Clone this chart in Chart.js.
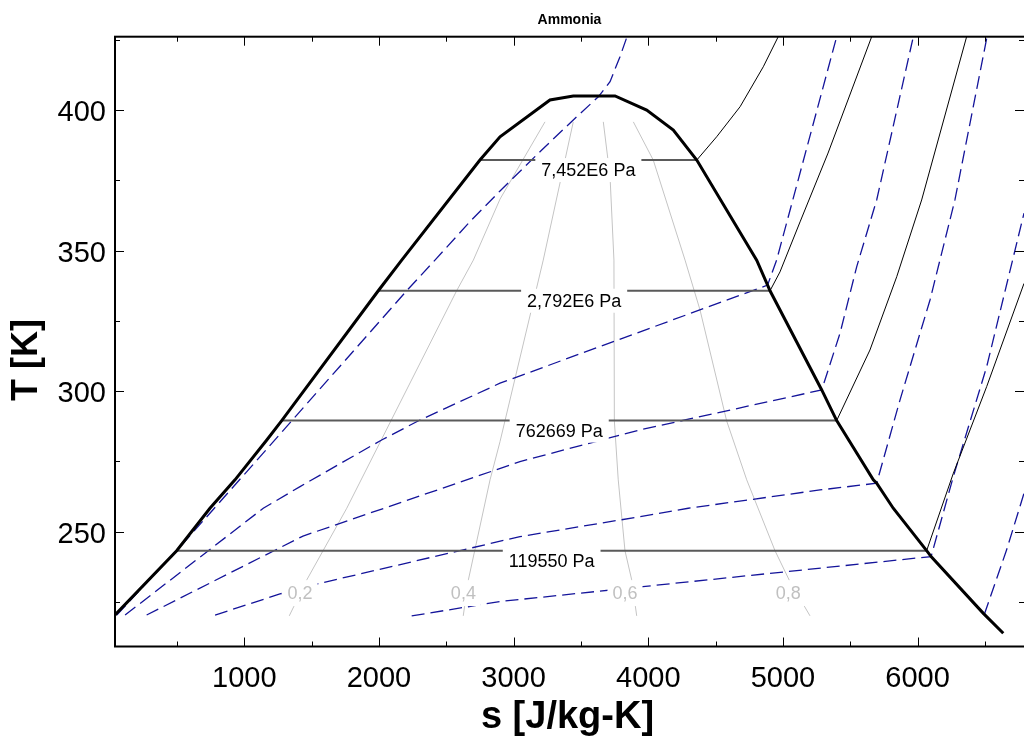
<!DOCTYPE html>
<html><head><meta charset="utf-8">
<script src="https://cdn.jsdelivr.net/npm/chart.js@4.4.1/dist/chart.umd.min.js"></script>
<style>html,body{margin:0;padding:0;background:#fff;overflow:hidden}</style>
</head><body>
<canvas id="c" width="1024" height="749" style="display:block;width:1024px;height:749px"></canvas>
<script>
// ---------- texts ----------
const chartTitle = 'Ammonia';
const xAxisTitle = 's [J/kg-K]';
const yAxisTitle = 'T [K]';

// ---------- axes ----------
const xRange = [40, 6790];
const yRange = [209.1, 426.1];
const xMajorTicks = [1000, 2000, 3000, 4000, 5000, 6000];
const xMinorTicks = [500, 1500, 2500, 3500, 4500, 5500, 6500];
const yMajorTicks = [250, 300, 350, 400];
const yMinorTicks = [225, 275, 325, 375, 425];

// ---------- saturation dome ----------
const domeS = [40, 498, 745, 931, 1167, 1278, 1995, 2169, 2750, 2899, 3270, 3443, 3753, 3988, 4186, 4360, 4805, 4886, 4904, 5288, 5399, 5671, 5696, 5819, 6067, 6100, 6488, 6636];
const domeT = [220.3, 243.2, 258.3, 268.4, 282.6, 289.5, 335.7, 346.6, 382.2, 390.5, 403.6, 405.0, 405.0, 400.0, 392.9, 382.2, 346.6, 337.7, 335.7, 300.4, 289.5, 268.4, 267.2, 258.3, 243.2, 241.1, 220.9, 213.8];

// ---------- isobars ----------
const isobarLabels = ['7,452E6 Pa', '2,792E6 Pa', '762669 Pa', '119550 Pa'];
const isobarT = [382.2, 335.7, 289.5, 243.2];
const isobarSLiq = [2750, 1995, 1278, 498];
const isobarSVap = [4360, 4904, 5399, 6067];
// superheated parts
const sh1S = [4360, 4508, 4682, 4854, 4965];
const sh1T = [382.2, 390.5, 401.2, 415.4, 426.1];
const sh2S = [4904, 4978, 5127, 5335, 5659];
const sh2T = [335.7, 342.4, 360.2, 384.7, 426.1];
const sh3S = [5399, 5646, 5845, 6030, 6364];
const sh3T = [289.5, 314.6, 340.7, 368.0, 426.1];
const sh4S = [6067, 6265, 6513, 6790];
const sh4T = [243.2, 270.7, 301.6, 338.3];

// ---------- isochores (blue dashed) ----------
const vAS = [53, 535, 1216, 2206, 2416, 2676, 2899, 3209, 3468, 3629, 3716, 3790, 3842];
const vAT = [220.3, 245.2, 282.0, 335.7, 346.6, 360.3, 371.2, 385.8, 397.6, 404.7, 410.1, 419.0, 426.1];
const vBS = [115, 1141, 1414, 2020, 2305, 2899, 3889, 4886, 4953, 5399];
const vBT = [220.3, 258.3, 266.0, 282.6, 289.7, 302.8, 320.2, 337.7, 346.6, 426.1];
const vCS = [275, 1436, 3047, 3939, 5288, 5424, 5548, 5696, 5968];
const vCT = [220.3, 248.4, 274.9, 286.2, 300.4, 320.6, 344.3, 368.0, 426.1];
const vDS = [783, 1265, 1562, 3047, 3939, 4297, 5275, 5696, 5869, 6092, 6277, 6513];
const vDT = [220.3, 227.8, 231.6, 248.2, 255.3, 258.3, 264.8, 267.2, 296.8, 332.4, 368.0, 425.5];
const vES = [2243, 2899, 6100, 6265, 6513, 6790];
const vET = [220.0, 225.1, 241.1, 269.5, 308.7, 363.3];
const vFS = [6495, 6661, 6790];
const vFT = [220.5, 243.5, 263.6];

// ---------- vapour quality lines ----------
const qualityLabels = ['0,2', '0,4', '0,6', '0,8'];
const qLabelS = [1414, 2627, 3827, 5040];
const qLabelT = [228.1, 228.1, 228.1, 228.1];
const q2S = [1334, 1464, 1761, 2577, 2701, 2899, 3233];
const q2T = [220.0, 232.8, 258.3, 335.7, 346.6, 368.3, 395.8];
const q4S = [2626, 2664, 2825, 2899, 3220, 3443];
const q4T = [220.0, 232.8, 268.4, 282.0, 346.6, 395.8];
const q6S = [3914, 3877, 3827, 3777, 3748, 3745, 3716, 3666];
const q6T = [220.0, 232.8, 243.2, 268.4, 289.4, 346.6, 376.3, 395.8];
const q8S = [5201, 5052, 4941, 4731, 4582, 4384, 4273, 4037, 3889];
const q8T = [220.0, 232.2, 243.2, 268.4, 289.4, 328.9, 346.6, 382.2, 395.8];

// ---------- build ----------
const FONT = 'Arial, "Liberation Sans", Helvetica, sans-serif';
const pts = (S, T) => S.map((s, i) => ({x: s, y: T[i]}));
const BLUE = '#14149a';
function line(S, T, color, width, dash) {
  return {data: pts(S, T), showLine: true, pointRadius: 0, borderColor: color,
          borderWidth: width, borderDash: dash || [], fill: false, tension: 0};
}
const datasets = [];
datasets.push(line(domeS, domeT, '#000', 3));
isobarT.forEach((t, i) => datasets.push(line([isobarSLiq[i], isobarSVap[i]], [t, t], '#5a5a5a', 2)));
[[sh1S, sh1T], [sh2S, sh2T], [sh3S, sh3T], [sh4S, sh4T]].forEach(a => datasets.push(line(a[0], a[1], '#000', 1)));
[[vAS, vAT], [vBS, vBT], [vCS, vCT], [vDS, vDT], [vES, vET], [vFS, vFT]].forEach(a => datasets.push(line(a[0], a[1], BLUE, 1.3, [13, 6])));
[[q2S, q2T], [q4S, q4T], [q6S, q6T], [q8S, q8T]].forEach(a => datasets.push(line(a[0], a[1], '#c4c4c4', 1)));

const overlay = {
  id: 'overlay',
  afterDatasetsDraw(chart) {
    const ctx = chart.ctx, xs = chart.scales.x, ys = chart.scales.y;
    ctx.save();
    ctx.textAlign = 'center';
    ctx.textBaseline = 'middle';
    ctx.font = '18px ' + FONT;
    isobarLabels.forEach((lab, i) => {
      const xm = (xs.getPixelForValue(isobarSLiq[i]) + xs.getPixelForValue(isobarSVap[i])) / 2;
      const yl = ys.getPixelForValue(isobarT[i]);
      const w = ctx.measureText(lab).width;
      ctx.fillStyle = '#fff';
      ctx.fillRect(xm - w / 2 - 6, yl - 2, w + 12, 24);
      ctx.fillStyle = '#000';
      ctx.fillText(lab, xm, yl + 11);
    });
    qualityLabels.forEach((lab, i) => {
      const xm = xs.getPixelForValue(qLabelS[i]);
      const ym = ys.getPixelForValue(qLabelT[i]);
      const w = ctx.measureText(lab).width;
      ctx.fillStyle = '#fff';
      ctx.fillRect(xm - w / 2 - 5, ym - 13, w + 10, 26);
      ctx.fillStyle = '#c0c0c0';
      ctx.fillText(lab, xm, ym + 1);
    });
    ctx.restore();
  },
  afterDraw(chart) {
    const ctx = chart.ctx, xs = chart.scales.x, ys = chart.scales.y, a = chart.chartArea;
    ctx.save();
    ctx.strokeStyle = '#000';
    ctx.lineWidth = 2;
    ctx.strokeRect(a.left, a.top, a.right - a.left + 2, a.bottom - a.top);
    ctx.lineWidth = 1;
    const tick = (vals, len, horiz) => vals.forEach(v => {
      ctx.beginPath();
      if (horiz) {
        const p = Math.round(xs.getPixelForValue(v)) + 0.5;
        ctx.moveTo(p, a.bottom); ctx.lineTo(p, a.bottom - len);
        ctx.moveTo(p, a.top); ctx.lineTo(p, a.top + len);
      } else {
        const p = Math.round(ys.getPixelForValue(v)) + 0.5;
        ctx.moveTo(a.left, p); ctx.lineTo(a.left + len, p);
        ctx.moveTo(a.right, p); ctx.lineTo(a.right - len, p);
      }
      ctx.stroke();
    });
    tick(xMajorTicks, 9, true); tick(xMinorTicks, 5, true);
    tick(yMajorTicks, 9, false); tick(yMinorTicks, 5, false);
    ctx.fillStyle = '#000';
    ctx.textAlign = 'center';
    ctx.textBaseline = 'middle';
    ctx.font = 'bold 14px ' + FONT;
    ctx.fillText(chartTitle, (a.left + a.right) / 2, 20);
    ctx.font = 'bold 38px ' + FONT;
    ctx.fillText(xAxisTitle, (a.left + a.right) / 2 - 2, 718);
    ctx.font = 'bold 36px ' + FONT;
    ctx.translate(27, 360);
    ctx.rotate(-Math.PI / 2);
    ctx.fillText(yAxisTitle, 0, 0);
    ctx.restore();
  }
};

new Chart(document.getElementById('c'), {
  type: 'scatter',
  data: {datasets},
  options: {
    responsive: false, animation: false, devicePixelRatio: 1,
    layout: {padding: {top: 36.7, left: 0, right: 0, bottom: 0}},
    plugins: {legend: {display: false}, title: {display: false}, tooltip: {enabled: false}},
    scales: {
      x: {
        type: 'linear', min: xRange[0], max: xRange[1],
        afterFit(s) { s.height = 102.5; },
        afterBuildTicks(s) { s.ticks = xMajorTicks.map(v => ({value: v})); },
        grid: {display: false, drawTicks: false}, border: {display: false},
        ticks: {padding: 15, color: '#000', font: {size: 29, family: FONT}, autoSkip: false, maxRotation: 0,
                callback: v => String(v)}
      },
      y: {
        type: 'linear', min: yRange[0], max: yRange[1],
        afterFit(s) { s.width = 115; },
        afterBuildTicks(s) { s.ticks = yMajorTicks.map(v => ({value: v})); },
        grid: {display: false, drawTicks: false}, border: {display: false},
        ticks: {padding: 9, labelOffset: 3, color: '#000', font: {size: 29, family: FONT}, autoSkip: false,
                callback: v => String(v)}
      }
    }
  },
  plugins: [overlay]
});
</script>
</body></html>
